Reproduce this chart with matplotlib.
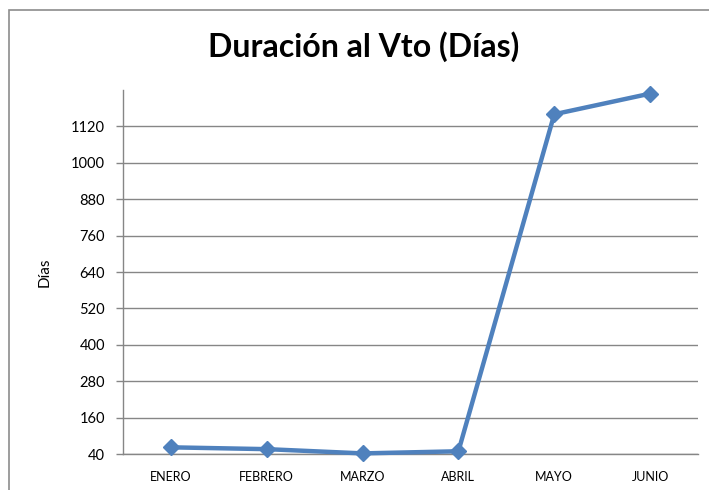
import matplotlib
matplotlib.use("Agg")
import matplotlib.pyplot as plt
from matplotlib.patches import Rectangle

categories = ["ENERO", "FEBRERO", "MARZO", "ABRIL", "MAYO", "JUNIO"]
values = [62, 56, 42, 49, 1160, 1228]
yticks = [40, 160, 280, 400, 520, 640, 760, 880, 1000, 1120]

plt.rcParams['font.family'] = ['Lato', 'DejaVu Sans']

W, H = 709, 490
fig = plt.figure(figsize=(W/100, H/100), dpi=100)
fig.patch.set_facecolor('white')

# outer chart border (clipped on right/bottom like reference)
fig.patches.append(Rectangle((9/W, -0.05), 2.0, 1 - 10/H + 0.05, transform=fig.transFigure,
                             fill=False, edgecolor='#8c8c8c', linewidth=1.2))

ax = fig.add_axes([123/W, 1 - 454/H, (698-123)/W, (454-90)/H])
x = list(range(len(categories)))
ax.plot(x, values, color='#4F81BD', linewidth=3.2, marker='D', markersize=8,
        markerfacecolor='#4F81BD', markeredgecolor='#4F81BD', zorder=3, clip_on=False)

ax.set_xlim(-0.5, len(categories) - 0.5)
ax.set_ylim(40, 1240)
ax.set_yticks(yticks)
ax.set_yticklabels([str(v) for v in yticks], fontsize=10.5)
ax.set_xticks(x)
ax.set_xticklabels(categories, fontsize=9)
ax.tick_params(axis='x', length=0, pad=12)
ax.tick_params(axis='y', length=5, width=1, color='#868686', pad=8, direction='out')
ax.grid(axis='y', color='#868686', linewidth=1)
ax.set_axisbelow(True)
for s in ['top', 'right']:
    ax.spines[s].set_visible(False)
for s in ['left', 'bottom']:
    ax.spines[s].set_color('#868686')
    ax.spines[s].set_linewidth(1)

ax.set_ylabel("Días", fontsize=11, labelpad=14)
fig.text(364/W, 1 - 47/H, "Duración al Vto (Días)", ha='center', va='center',
         fontsize=23, fontweight='bold')

fig.savefig("out.png", dpi=100)
